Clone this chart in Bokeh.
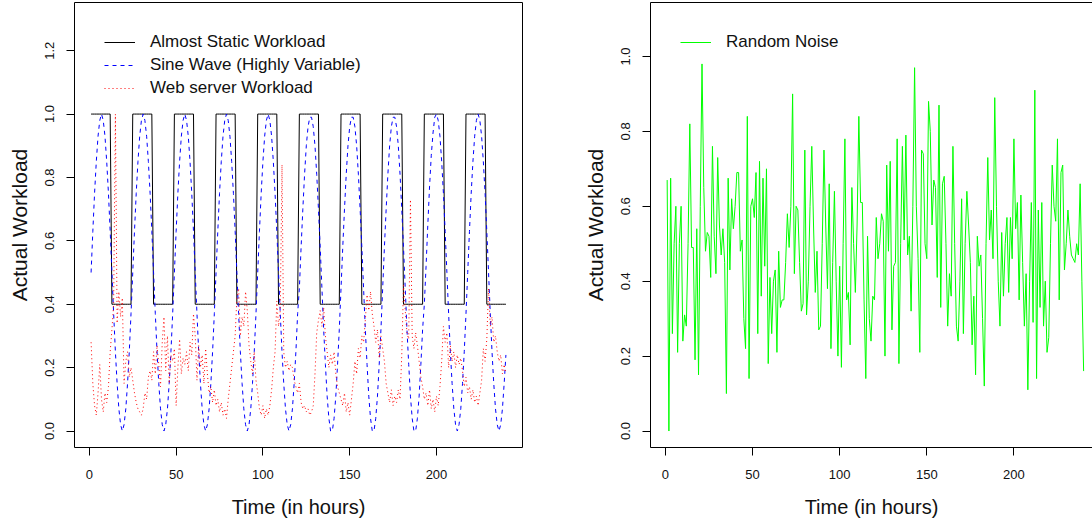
from bokeh.plotting import figure
from bokeh.models import FixedTicker, PrintfTickFormatter, Range1d, Legend, LegendItem, LinearAxis
from bokeh.layouts import row
from bokeh.embed import file_html
from bokeh.resources import INLINE

FONT = "Liberation Sans"

hours = list(range(1, 241))

almost_static = [
    1.0, 1.0, 1.0, 1.0, 1.0, 1.0, 1.0, 1.0, 1.0, 1.0, 1.0, 1.0, 0.4, 0.4, 0.4, 0.4, 0.4, 0.4, 0.4, 0.4, 0.4, 0.4, 0.4, 0.4,
    1.0, 1.0, 1.0, 1.0, 1.0, 1.0, 1.0, 1.0, 1.0, 1.0, 1.0, 1.0, 0.4, 0.4, 0.4, 0.4, 0.4, 0.4, 0.4, 0.4, 0.4, 0.4, 0.4, 0.4,
    1.0, 1.0, 1.0, 1.0, 1.0, 1.0, 1.0, 1.0, 1.0, 1.0, 1.0, 1.0, 0.4, 0.4, 0.4, 0.4, 0.4, 0.4, 0.4, 0.4, 0.4, 0.4, 0.4, 0.4,
    1.0, 1.0, 1.0, 1.0, 1.0, 1.0, 1.0, 1.0, 1.0, 1.0, 1.0, 1.0, 0.4, 0.4, 0.4, 0.4, 0.4, 0.4, 0.4, 0.4, 0.4, 0.4, 0.4, 0.4,
    1.0, 1.0, 1.0, 1.0, 1.0, 1.0, 1.0, 1.0, 1.0, 1.0, 1.0, 1.0, 0.4, 0.4, 0.4, 0.4, 0.4, 0.4, 0.4, 0.4, 0.4, 0.4, 0.4, 0.4,
    1.0, 1.0, 1.0, 1.0, 1.0, 1.0, 1.0, 1.0, 1.0, 1.0, 1.0, 1.0, 0.4, 0.4, 0.4, 0.4, 0.4, 0.4, 0.4, 0.4, 0.4, 0.4, 0.4, 0.4,
    1.0, 1.0, 1.0, 1.0, 1.0, 1.0, 1.0, 1.0, 1.0, 1.0, 1.0, 1.0, 0.4, 0.4, 0.4, 0.4, 0.4, 0.4, 0.4, 0.4, 0.4, 0.4, 0.4, 0.4,
    1.0, 1.0, 1.0, 1.0, 1.0, 1.0, 1.0, 1.0, 1.0, 1.0, 1.0, 1.0, 0.4, 0.4, 0.4, 0.4, 0.4, 0.4, 0.4, 0.4, 0.4, 0.4, 0.4, 0.4,
    1.0, 1.0, 1.0, 1.0, 1.0, 1.0, 1.0, 1.0, 1.0, 1.0, 1.0, 1.0, 0.4, 0.4, 0.4, 0.4, 0.4, 0.4, 0.4, 0.4, 0.4, 0.4, 0.4, 0.4,
    1.0, 1.0, 1.0, 1.0, 1.0, 1.0, 1.0, 1.0, 1.0, 1.0, 1.0, 1.0, 0.4, 0.4, 0.4, 0.4, 0.4, 0.4, 0.4, 0.4, 0.4, 0.4, 0.4, 0.4,
]

sine_wave = [
    0.5, 0.63, 0.75, 0.85, 0.93, 0.98, 1.0, 0.98, 0.93, 0.85, 0.75, 0.63, 0.5, 0.37, 0.25, 0.15, 0.07, 0.02, 0.0, 0.02, 0.07, 0.15, 0.25, 0.37,
    0.5, 0.63, 0.75, 0.85, 0.93, 0.98, 1.0, 0.98, 0.93, 0.85, 0.75, 0.63, 0.5, 0.37, 0.25, 0.15, 0.07, 0.02, 0.0, 0.02, 0.07, 0.15, 0.25, 0.37,
    0.5, 0.63, 0.75, 0.85, 0.93, 0.98, 1.0, 0.98, 0.93, 0.85, 0.75, 0.63, 0.5, 0.37, 0.25, 0.15, 0.07, 0.02, 0.0, 0.02, 0.07, 0.15, 0.25, 0.37,
    0.5, 0.63, 0.75, 0.85, 0.93, 0.98, 1.0, 0.98, 0.93, 0.85, 0.75, 0.63, 0.5, 0.37, 0.25, 0.15, 0.07, 0.02, 0.0, 0.02, 0.07, 0.15, 0.25, 0.37,
    0.5, 0.63, 0.75, 0.85, 0.93, 0.98, 1.0, 0.98, 0.93, 0.85, 0.75, 0.63, 0.5, 0.37, 0.25, 0.15, 0.07, 0.02, 0.0, 0.02, 0.07, 0.15, 0.25, 0.37,
    0.45, 0.58, 0.7, 0.81, 0.9, 0.96, 0.99, 0.99, 0.96, 0.9, 0.81, 0.7, 0.58, 0.45, 0.32, 0.21, 0.11, 0.04, 0.0, 0.0, 0.04, 0.11, 0.21, 0.32,
    0.45, 0.58, 0.7, 0.81, 0.9, 0.96, 0.99, 0.99, 0.96, 0.9, 0.81, 0.7, 0.58, 0.45, 0.32, 0.21, 0.11, 0.04, 0.0, 0.0, 0.04, 0.11, 0.21, 0.32,
    0.45, 0.58, 0.7, 0.81, 0.9, 0.96, 0.99, 0.99, 0.96, 0.9, 0.81, 0.7, 0.58, 0.45, 0.32, 0.21, 0.11, 0.04, 0.0, 0.0, 0.04, 0.11, 0.21, 0.32,
    0.4, 0.52, 0.65, 0.77, 0.87, 0.94, 0.99, 1.0, 0.98, 0.93, 0.85, 0.75, 0.63, 0.5, 0.37, 0.25, 0.15, 0.07, 0.02, 0.0, 0.02, 0.07, 0.15, 0.25,
    0.37, 0.5, 0.63, 0.75, 0.85, 0.93, 0.98, 1.0, 0.98, 0.93, 0.85, 0.75, 0.63, 0.5, 0.37, 0.25, 0.15, 0.07, 0.02, 0.0, 0.02, 0.07, 0.15, 0.24,
]

web_server = [
    0.28, 0.15, 0.08, 0.05, 0.12, 0.21, 0.10, 0.06, 0.12, 0.09, 0.14, 0.25, 0.32, 0.40, 1.00, 0.34, 0.44, 0.36, 0.42, 0.15,
    0.22, 0.25, 0.17, 0.20, 0.16, 0.12, 0.09, 0.07, 0.06, 0.05, 0.07, 0.12, 0.10, 0.17, 0.19, 0.16, 0.25, 0.18, 0.27, 0.21,
    0.14, 0.28, 0.36, 0.19, 0.30, 0.15, 0.24, 0.22, 0.26, 0.08, 0.20, 0.29, 0.18, 0.23, 0.21, 0.25, 0.19, 0.28, 0.24, 0.37,
    0.30, 0.16, 0.27, 0.20, 0.24, 0.15, 0.26, 0.18, 0.12, 0.14, 0.09, 0.13, 0.08, 0.10, 0.06, 0.09, 0.05, 0.07, 0.04, 0.10,
    0.15, 0.20, 0.25, 0.30, 0.42, 0.45, 0.30, 0.36, 0.33, 0.44, 0.38, 0.27, 0.22, 0.18, 0.25, 0.16, 0.12, 0.07, 0.05, 0.08,
    0.04, 0.07, 0.05, 0.08, 0.13, 0.20, 0.25, 0.41, 0.33, 0.38, 0.84, 0.25, 0.20, 0.22, 0.19, 0.21, 0.20, 0.16, 0.14, 0.12,
    0.15, 0.09, 0.07, 0.08, 0.06, 0.07, 0.05, 0.06, 0.08, 0.18, 0.31, 0.35, 0.38, 0.33, 0.39, 0.30, 0.25, 0.20, 0.24, 0.21,
    0.25, 0.18, 0.14, 0.12, 0.10, 0.08, 0.12, 0.06, 0.09, 0.05, 0.10, 0.15, 0.22, 0.18, 0.26, 0.23, 0.30, 0.28, 0.35, 0.43,
    0.38, 0.44, 0.37, 0.33, 0.28, 0.32, 0.23, 0.30, 0.26, 0.22, 0.15, 0.12, 0.09, 0.13, 0.08, 0.11, 0.09, 0.13, 0.10, 0.24,
    0.46, 0.38, 0.31, 0.29, 0.73, 0.30, 0.26, 0.31, 0.27, 0.22, 0.17, 0.14, 0.10, 0.12, 0.08, 0.13, 0.07, 0.10, 0.06, 0.11,
    0.08, 0.14, 0.22, 0.33, 0.28, 0.31, 0.20, 0.27, 0.22, 0.25, 0.20, 0.24, 0.21, 0.23, 0.19, 0.14, 0.17, 0.12, 0.14, 0.10,
    0.13, 0.09, 0.11, 0.08, 0.12, 0.16, 0.26, 0.22, 0.29, 0.45, 0.33, 0.36, 0.28, 0.30, 0.25, 0.22, 0.24, 0.18, 0.21, 0.18,
]

random_noise = [
    0.67, 0.00, 0.675, 0.26, 0.50, 0.60, 0.21, 0.50, 0.60, 0.24, 0.31, 0.28, 0.50, 0.82, 0.49, 0.49, 0.19, 0.54, 0.15, 0.60,
    0.98, 0.65, 0.48, 0.53, 0.52, 0.41, 0.76, 0.52, 0.42, 0.73, 0.55, 0.47, 0.54, 0.45, 0.10, 0.675, 0.43, 0.62, 0.54, 0.60,
    0.69, 0.69, 0.48, 0.51, 0.30, 0.22, 0.84, 0.14, 0.60, 0.62, 0.57, 0.69, 0.26, 0.72, 0.36, 0.675, 0.44, 0.70, 0.18, 0.41,
    0.26, 0.40, 0.43, 0.21, 0.48, 0.33, 0.35, 0.35, 0.45, 0.58, 0.49, 0.60, 0.90, 0.42, 0.60, 0.59, 0.45, 0.32, 0.34, 0.75,
    0.31, 0.40, 0.60, 0.76, 0.55, 0.37, 0.48, 0.27, 0.28, 0.50, 0.75, 0.55, 0.38, 0.66, 0.22, 0.45, 0.64, 0.40, 0.20, 0.44,
    0.17, 0.50, 0.78, 0.35, 0.37, 0.23, 0.65, 0.50, 0.37, 0.55, 0.84, 0.61, 0.61, 0.35, 0.14, 0.52, 0.30, 0.24, 0.36, 0.35,
    0.57, 0.46, 0.50, 0.58, 0.56, 0.20, 0.71, 0.48, 0.72, 0.27, 0.44, 0.45, 0.78, 0.18, 0.50, 0.76, 0.51, 0.79, 0.47, 0.52,
    0.32, 0.60, 0.97, 0.60, 0.46, 0.21, 0.75, 0.74, 0.50, 0.46, 0.88, 0.80, 0.55, 0.67, 0.65, 0.41, 0.87, 0.33, 0.66, 0.68,
    0.50, 0.28, 0.42, 0.36, 0.76, 0.50, 0.28, 0.24, 0.40, 0.62, 0.26, 0.50, 0.64, 0.55, 0.45, 0.23, 0.36, 0.15, 0.52, 0.44,
    0.47, 0.30, 0.12, 0.50, 0.73, 0.51, 0.59, 0.46, 0.89, 0.60, 0.40, 0.28, 0.53, 0.36, 0.50, 0.57, 0.37, 0.57, 0.46, 0.78,
    0.54, 0.61, 0.35, 0.63, 0.45, 0.28, 0.42, 0.11, 0.40, 0.61, 0.29, 0.91, 0.14, 0.59, 0.33, 0.61, 0.28, 0.40, 0.21, 0.25,
    0.50, 0.71, 0.60, 0.56, 0.78, 0.35, 0.69, 0.71, 0.43, 0.50, 0.59, 0.52, 0.47, 0.46, 0.45, 0.50, 0.47, 0.66, 0.40, 0.16,
]

x_ticks = [0, 50, 100, 150, 200]
y_ticks_left = [0.0, 0.2, 0.4, 0.6, 0.8, 1.0, 1.2]
y_ticks_right = [0.0, 0.2, 0.4, 0.6, 0.8, 1.0]
x_title = "Time (in hours)"
y_title = "Actual Workload"


def style_axes(p, y_ticks):
    p.xgrid.visible = False
    p.ygrid.visible = False
    p.background_fill_color = "white"
    p.border_fill_color = "white"
    for ax in (p.xaxis[0], p.yaxis[0]):
        ax.major_tick_out = 8
        ax.major_tick_in = 0
        ax.minor_tick_line_color = None
        ax.major_tick_line_color = "black"
        ax.major_label_text_font = FONT
        ax.major_label_text_font_size = "13px"
        ax.major_label_text_color = "#111111"
        ax.axis_label_text_font = FONT
        ax.axis_label_text_font_style = "normal"
        ax.axis_label_text_color = "#111111"
    p.xaxis[0].ticker = FixedTicker(ticks=x_ticks)
    p.yaxis[0].ticker = FixedTicker(ticks=y_ticks)
    p.yaxis[0].formatter = PrintfTickFormatter(format="%.1f")
    p.yaxis[0].major_label_orientation = "vertical"
    p.xaxis[0].major_label_standoff = 14
    p.yaxis[0].major_label_standoff = 12
    p.xaxis[0].axis_label = x_title
    p.yaxis[0].axis_label = y_title
    p.xaxis[0].axis_label_text_font_size = "20px"
    p.yaxis[0].axis_label_text_font_size = "21px"
    p.xaxis[0].axis_label_standoff = 14
    p.yaxis[0].axis_label_standoff = 12


def make_legend(items):
    return Legend(
        items=items, location="top_left", margin=30, padding=10,
        border_line_color=None, background_fill_alpha=0,
        label_text_font=FONT, label_text_font_size="17px", label_text_color="#111111",
        glyph_width=31, glyph_height=18, label_height=18, label_standoff=15, spacing=3,
    )


# Left panel
p1 = figure(width=546, height=524, x_range=Range1d(-8.56, 249.56), y_range=Range1d(-0.052, 1.352),
            output_backend="svg", toolbar_location=None,
            min_border_left=74, min_border_right=24, min_border_top=2, min_border_bottom=77)
style_axes(p1, y_ticks_left)
p1.outline_line_color = "black"
p1.outline_line_alpha = 1.0
p1.xaxis[0].axis_line_color = None
p1.yaxis[0].axis_line_color = None

r_static = p1.line(hours, almost_static, line_color="black", line_width=1)
r_sine = p1.line(hours, sine_wave, line_color="#0000FF", line_width=1, line_dash="4 4")
r_web = p1.line(hours, web_server, line_color="#FF0000", line_width=1, line_dash="1 3")
p1.add_layout(make_legend([
    LegendItem(label="Almost Static Workload", renderers=[r_static]),
    LegendItem(label="Sine Wave (Highly Variable)", renderers=[r_sine]),
    LegendItem(label="Web server Workload", renderers=[r_web]),
]))

# Right panel (cut off on the right like the reference)
p2 = figure(width=546, height=524, x_range=Range1d(-8.56, 245.1), y_range=Range1d(-0.044, 1.144),
            output_backend="svg", toolbar_location=None,
            min_border_left=104, min_border_right=0, min_border_top=2, min_border_bottom=77)
style_axes(p2, y_ticks_right)
p2.outline_line_color = None
p2.xaxis[0].axis_line_color = "black"
p2.yaxis[0].axis_line_color = "black"
top_axis = LinearAxis(ticker=FixedTicker(ticks=[]), axis_line_color="black",
                      major_tick_line_color=None, minor_tick_line_color=None,
                      major_label_text_font_size="0px")
p2.add_layout(top_axis, "above")

r_noise = p2.line(hours, random_noise, line_color="#00FF00", line_width=1)
p2.add_layout(make_legend([LegendItem(label="Random Noise", renderers=[r_noise])]))

layout = row(p1, p2)
open("out.html", "w").write(file_html(layout, INLINE))
